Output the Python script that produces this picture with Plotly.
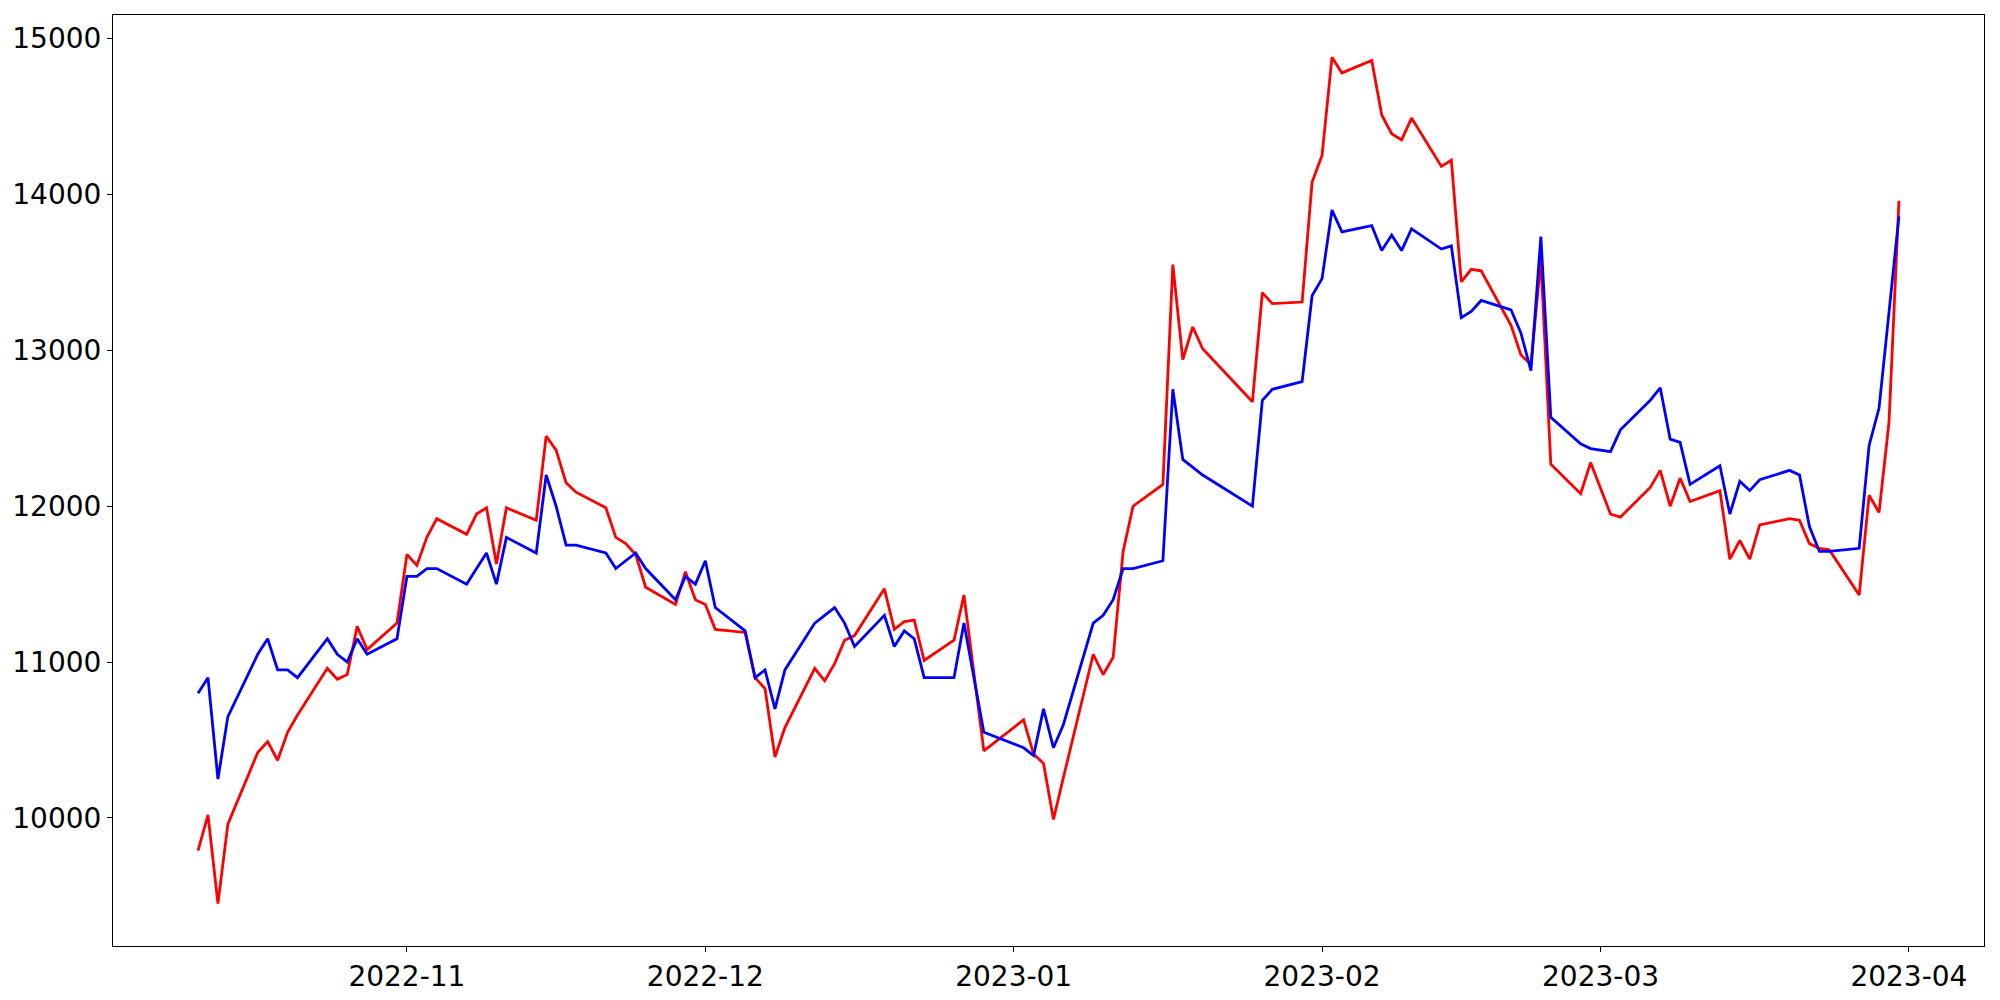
import pandas as pd
import plotly.graph_objects as go

# KRX closed days inside the window
holidays = ["2022-12-30", "2023-01-23", "2023-01-24", "2023-03-01"]
dates = pd.bdate_range("2022-10-11", "2023-03-31", freq="C", holidays=holidays)

blue_vals = [
    # Oct
    10800, 10900, 10250, 10650, 11050, 11150, 10950, 10950, 10900, 11150, 11050, 11000, 11150, 11050, 11150,
    # Nov
    11550, 11550, 11600, 11600, 11500, 11600, 11700, 11500, 11800, 11700, 12200, 12000, 11750, 11750, 11700,
    11600, 11650, 11700, 11600, 11400, 11550, 11500,
    # Dec
    11650, 11350, 11200, 10900, 10950, 10700, 10950, 11250, 11300, 11350, 11250, 11100, 11300, 11100, 11200,
    11150, 10900, 10900, 11250, 10900, 10550,
    # Jan
    10450, 10400, 10700, 10450, 10600, 11250, 11300, 11400, 11600, 11600, 11650, 12750, 12300, 12250, 12200,
    12000, 12680, 12750, 12800, 13350,
    # Feb
    13460, 13900, 13760, 13800, 13640, 13740, 13640, 13780, 13650, 13670, 13210, 13250, 13320, 13260, 13110,
    12870, 13730, 12570, 12400, 12370,
    # Mar
    12350, 12490, 12680, 12760, 12430, 12410, 12140, 12260, 11950, 12160, 12100, 12170, 12230, 12200, 11870,
    11710, 11710, 11730, 12390, 12630, 13250, 13860,
]

red_vals = [
    # Oct
    9790, 10020, 9450, 9960, 10420, 10490, 10370, 10550, 10660, 10960, 10890, 10920, 11230, 11080, 11250,
    # Nov
    11690, 11620, 11800, 11920, 11820, 11950, 11990, 11630, 11990, 11910, 12450, 12360, 12150, 12090, 11990,
    11800, 11760, 11690, 11480, 11370, 11580, 11400,
    # Dec
    11370, 11210, 11190, 10900, 10830, 10390, 10580, 10960, 10880, 10990, 11140, 11170, 11470, 11210, 11260,
    11270, 11010, 11140, 11430, 10930, 10430,
    # Jan
    10630, 10410, 10350, 9990, 10260, 11050, 10920, 11030, 11710, 12000, 12140, 13550, 12940, 13150, 13010,
    12670, 13370, 13300, 13310, 14080,
    # Feb
    14250, 14880, 14780, 14860, 14510, 14390, 14350, 14490, 14180, 14220, 13440, 13520, 13510, 13160, 12970,
    12910, 13580, 12270, 12080, 12280,
    # Mar
    11950, 11930, 12120, 12230, 12000, 12180, 12030, 12100, 11660, 11780, 11660, 11880, 11920, 11910, 11760,
    11730, 11720, 11430, 12070, 11960, 12540, 13960,
]

fig = go.Figure()
fig.add_trace(go.Scatter(x=dates, y=red_vals, mode="lines",
                         line=dict(color="red", width=2.8), showlegend=False))
fig.add_trace(go.Scatter(x=dates, y=blue_vals, mode="lines",
                         line=dict(color="blue", width=2.8), showlegend=False))

# matplotlib-like 5% margins
lo = min(min(red_vals), min(blue_vals))
hi = max(max(red_vals), max(blue_vals))
ypad = (hi - lo) * 0.05
xpad = (dates[-1] - dates[0]) * 0.05

axis_style = dict(showgrid=False, zeroline=False, showline=True, mirror=True,
                  linecolor="black", linewidth=1.1, ticks="outside", ticklen=5,
                  tickwidth=1.1, tickcolor="black", automargin=False,
                  tickfont=dict(family="DejaVu Sans", size=28, color="black"))

fig.update_xaxes(range=[dates[0] - xpad, dates[-1] + xpad], dtick="M1",
                 tick0="2022-11-01", tickformat="%Y-%m", **axis_style)
fig.update_yaxes(range=[lo - ypad, hi + ypad], dtick=1000, tick0=10000,
                 tickformat="d", **axis_style)

# page body adds ~8px offset, margins compensate for it
fig.update_layout(width=2000, height=1000, plot_bgcolor="white", paper_bgcolor="white",
                  margin=dict(l=105, r=24, t=7, b=62))

fig.write_html("out.html")
